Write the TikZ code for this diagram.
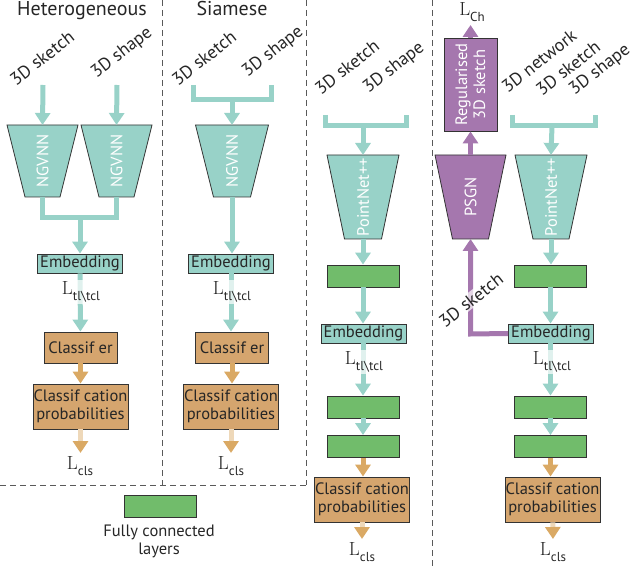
\documentclass[tikz,border=0pt]{standalone}
\usepackage{fontspec}
\setsansfont{PT Sans}
\renewcommand{\familydefault}{\sfdefault}
\usetikzlibrary{arrows.meta}
\definecolor{teal1}{HTML}{98D2C8}
\definecolor{tan1}{HTML}{D5A56E}
\definecolor{tanarr}{HTML}{DAA964}
\definecolor{green1}{HTML}{71BC6B}
\definecolor{purp}{HTML}{A577AE}
\definecolor{edge}{HTML}{333333}
\definecolor{txt}{HTML}{262626}
\newcommand\trapz[8]{%
  \draw[draw=edge, line width=0.8pt, fill=#7] (#2-#4/2,#3) -- (#2+#4/2,#3) -- (#2+#5/2,#3+#6) -- (#2-#5/2,#3+#6) -- cycle;
  \coordinate (#1-n) at (#2,#3);
  \coordinate (#1-s) at (#2,#3+#6);
  \node[rotate=90, text=white, font=\fontsize{16.5}{17}\selectfont, inner sep=0] (#1) at (#2,#3+#6/2) {#8};
}
\newcommand\Ltl{{\rmfamily\fontsize{19}{19}\selectfont L}\raisebox{-6pt}{\fontsize{13}{13}\selectfont tl\textbackslash tcl}}
\newcommand\Lcls{{\rmfamily\fontsize{19}{19}\selectfont L}\raisebox{-6pt}{\fontsize{13}{13}\selectfont cls}}
\newcommand\Lch{{\rmfamily\fontsize{19}{19}\selectfont L}\raisebox{-6pt}{\fontsize{13}{13}\selectfont Ch}}
\begin{document}
\begin{tikzpicture}[x=1pt,y=-1pt,
  box/.style={draw=edge, line width=0.8pt, inner sep=0, font=\fontsize{16.5}{18}\selectfont, text=txt, align=center},
  emb/.style={box, fill=teal1, minimum width=85pt, minimum height=19pt},
  clsbox/.style={box, fill=tan1, minimum width=73pt, minimum height=31pt},
  prob/.style={box, fill=tan1, minimum width=95pt, minimum height=45pt},
  fc/.style={box, fill=green1, minimum width=72pt, minimum height=22pt},
  inlbl/.style={rotate=38, font=\fontsize{18}{20}\selectfont, text=txt, inner sep=1pt},
  title/.style={font=\fontsize{20}{22}\selectfont, text=txt, inner sep=0pt},
  ta/.style={draw=teal1, line width=5pt, -{Triangle[width=15pt,length=12pt]}},
  tl/.style={draw=teal1, line width=5pt},
  oa/.style={draw=tanarr, line width=5pt, -{Triangle[width=15pt,length=12pt]}},
  oap/.style={draw=tanarr!45, line width=5pt, -{Triangle[width=15pt,length=12pt,color=tanarr]}},
  pa/.style={draw=purp, line width=5pt, -{Triangle[width=15pt,length=12pt]}},
  lossl/.style={fill=white, fill opacity=0.7, text opacity=1, inner sep=2pt, text=txt},
  loss/.style={inner sep=1pt, text=txt},
  sep/.style={draw=black!65, line width=1pt, dash pattern=on 6pt off 4pt}
]
\useasboundingbox (0,0) rectangle (633,567);
% separators
\draw[sep] (162,0) -- (162,485);
\draw[sep] (306,0) -- (306,485);
\draw[sep] (0,485) -- (306,485);
\draw[sep] (432,0) -- (432,567);
% titles
\node[title, anchor=base] (t1) at (82,16) {Heterogeneous};
\node[title, anchor=base] (t2) at (232,16) {Siamese};

% ---------- column 1 ----------
\node[inlbl] (sk1) at (42,58) {3D sketch};
\node[inlbl] (sh1) at (122,53) {3D shape};
\coordinate (a1) at (43,85);
\coordinate (a2) at (117,85);
\trapz{T1}{42.5}{125}{71}{35}{72}{teal1}{NGVNN}
\trapz{T2}{116.5}{125}{71}{35}{72}{teal1}{NGVNN}
\draw[ta] (a1) -- (T1-n);
\draw[ta] (a2) -- (T2-n);
\draw[tl, line join=miter] (T1-s) -- ++(0,21) -| (T2-s);
\coordinate (m1) at (80,218);
\node[emb] (e1) at (80,263.5) {Embedding};
\node[clsbox] (c1) at (80.5,347.5) {Classif er};
\node[prob] (p1) at (80.5,406.5) {Classif cation\\probabilities};
\coordinate (l1) at (80.5,453);
\draw[ta] (m1) -- (e1);
\draw[ta] (e1) -- (c1);
\node[lossl] (L1) at (81,292) {\Ltl};
\draw[oa] (c1) -- (p1);
\draw[oap] (p1) -- (l1);
\node[loss] (Lc1) at (80,466) {\Lcls};

% ---------- column 2 ----------
\node[inlbl] (sk2) at (204,58) {3D sketch};
\node[inlbl] (sh2) at (273,52) {3D shape};
\coordinate (b2l) at (193,85);
\coordinate (b2r) at (271,85);
\coordinate (b2m) at (232,100);
\draw[tl, line join=miter] (b2l) |- (b2r |- b2m) -- (b2r);
\trapz{T3}{232}{125}{73}{37}{72}{teal1}{NGVNN}
\draw[ta] (b2m) -- (T3-n);
\node[emb] (e2) at (231,263.5) {Embedding};
\node[clsbox] (c2) at (232,347.5) {Classif er};
\node[prob] (p2) at (231,406.5) {Classif cation\\probabilities};
\coordinate (l2) at (231,453);
\draw[ta] (T3-s) -- (T3-s |- e2.north);
\draw[ta] (e2) -- (e2 |- c2.north);
\node[lossl] (L2) at (232,292) {\Ltl};
\draw[oa] (c2) -- (c2 |- p2.north);
\draw[oap] (p2) -- (l2);
\node[loss] (Lc2) at (231,466) {\Lcls};

% ---------- column 3 ----------
\node[inlbl] (sk3) at (347,67) {3D sketch};
\node[inlbl] (sh3) at (394,68) {3D shape};
\coordinate (b3l) at (325,115);
\coordinate (b3r) at (406,115);
\coordinate (b3m) at (363,126);
\draw[tl, line join=miter] (b3l) |- (b3r |- b3m) -- (b3r);
\trapz{T5}{363}{155}{72}{37}{84}{teal1}{PointNet++}
\draw[ta] (b3m) -- (T5-n);
\node[fc] (f31) at (363,276) {};
\node[emb] (e3) at (363.5,333.5) {Embedding};
\node[fc] (f32) at (363,407) {};
\node[fc] (f33) at (363,446.5) {};
\node[prob] (p3) at (362,499.5) {Classif cation\\probabilities};
\coordinate (l3) at (362,539);
\draw[ta] (T5-s) -- (f31);
\draw[ta] (f31) -- (f31 |- e3.north);
\draw[ta] (e3.south -| f32) -- (f32);
\node[lossl] (L3) at (364,362) {\Ltl};
\draw[ta] (f32) -- (f33);
\draw[oa] (f33) -- (f33 |- p3.north);
\draw[oap] (p3) -- (l3);
\node[loss] (Lc3) at (362,552) {\Lcls};

% ---------- column 4 ----------
\node[box, fill=purp, text=white, rotate=90, minimum width=93pt, minimum height=53pt, font=\fontsize{16.5}{18}\selectfont] (reg) at (470.5,84.5) {Regularised\\3D sketch};
\coordinate (lch) at (470.5,25);
\node[loss] (Lch) at (472,12) {\Lch};
\trapz{T6}{470.5}{155}{71}{36}{84}{purp}{PSGN}
\draw[pa] (T6-n) -- (reg.west);
\draw[pa] (reg.east) -- (lch);
\node[inlbl] (nw4) at (539,61) {3D network};
\node[inlbl] (sk4) at (568,68) {3D sketch};
\node[inlbl] (sh4) at (600,70) {3D shape};
\coordinate (b4l) at (512,115);
\coordinate (b4r) at (595,115);
\coordinate (b4m) at (552,126);
\draw[tl, line join=miter] (b4l) |- (b4r |- b4m) -- (b4r);
\trapz{T7}{551}{155}{72}{36}{84}{teal1}{PointNet++}
\draw[ta] (b4m) -- (T7-n);
\node[fc] (f41) at (550.5,276) {};
\node[emb] (e4) at (551,333.5) {Embedding};
\node[fc] (f42) at (550.5,407) {};
\node[fc] (f43) at (550.5,446.5) {};
\node[prob] (p4) at (552.5,499.5) {Classif cation\\probabilities};
\coordinate (l4) at (553,539);
\draw[ta] (T7-s) -- (T7-s |- f41.north);
\draw[ta] (f41) -- (f41 |- e4.north);
\draw[ta] (e4.south -| f42) -- (f42);
\node[lossl] (L4) at (552,362) {\Ltl};
\draw[ta] (f42) -- (f43);
\draw[oa] (f43) -- (f43 |- p4.north);
\draw[oap] (p4) -- (l4);
\node[loss] (Lc4) at (553,552) {\Lcls};
% purple feedback
\coordinate (pc) at (470.5,334);
\draw[pa, line join=miter] (e4.west) -- (pc) -- (T6-s);
\node[inlbl, fill=white, fill opacity=0.7, text opacity=1] (sk5) at (471,300) {3D sketch};

% legend
\node[fc] (leg) at (160,506.5) {};
\node[text=txt, align=center, font=\fontsize{16.5}{18}\selectfont, anchor=north] (legt) at (159,521) {Fully connected\\layers};
\end{tikzpicture}
\end{document}
